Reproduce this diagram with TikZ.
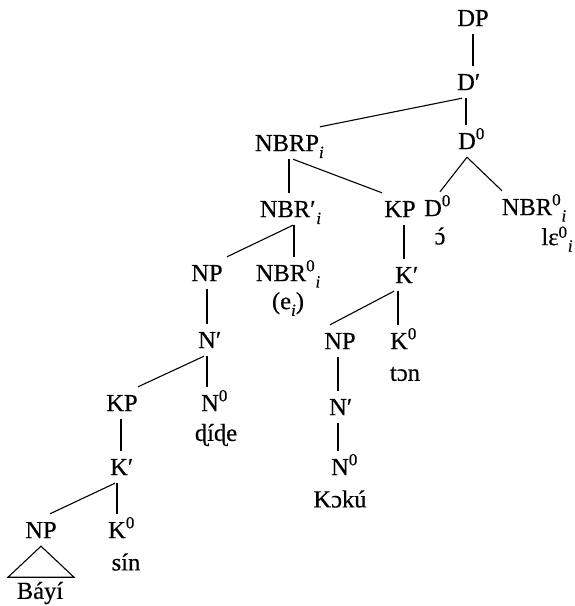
\documentclass[tikz,border=0pt]{standalone}
\usepackage{fontspec}
\setmainfont{Liberation Serif}[FakeBold=0.5]
\newcommand{\ssz}{\fontsize{17}{17}\selectfont}
\newcommand{\SupX}[1]{\rlap{\raisebox{0.40em}{\ssz #1}}}
\newcommand{\SubX}[1]{\rlap{\raisebox{-0.28em}{\ssz\itshape #1}}}
\newcommand{\SupSubX}[2]{\rlap{\raisebox{0.40em}{\ssz #1}}\rlap{\raisebox{-0.26em}{\kern0.38em\ssz\itshape #2}}}
\newcommand{\SupSubLow}[2]{\rlap{\raisebox{0.30em}{\ssz #1}}\rlap{\raisebox{-0.26em}{\kern0.38em\ssz\itshape #2}}}
\newcommand{\PrX}{\rlap{′}}
\newcommand{\PrSubX}[1]{\rlap{′}\rlap{\raisebox{-0.28em}{\kern0.25em\ssz\itshape #1}}}
\newcommand{\OOA}{\setbox0\hbox{ɔ}\rlap{ɔ}\hbox to\wd0{\hss\kern0.08em ´\hss}}
\begin{document}
\begin{tikzpicture}[x=1pt,y=-1pt,
  lab/.style={inner sep=0pt,text height=16.2pt,text depth=0pt,minimum height=32pt,font=\fontsize{24.5}{28}\selectfont},
  word/.style={inner sep=0pt,font=\fontsize{24.5}{28}\selectfont},
  edge/.style={line width=1.1pt}]
\useasboundingbox (0,0) rectangle (575,606);
% labels
\node[lab] (dp) at (473,18) {DP};
\node[lab] (dbar) at (466,82) {D\PrX};
\node[lab] (d0) at (467,141) {D\SupX{0}};
\node[lab] (nbrp) at (287,143) {NBRP\SubX{i}};
\node[lab] (nbrbar) at (285,209) {NBR\PrSubX{i}};
\node[lab] (kp) at (400,209) {KP};
\node[lab] (d0b) at (433,208) {D\SupX{0}};
\node[lab] (nbr0) at (527,207) {NBR\SupSubX{0}{i}};
\node[word] (oo) at (440,236) {\OOA};
\node[word] (le) at (550,239) {lɛ\SupSubLow{0}{i}};
\node[lab] (npm) at (207,273) {NP};
\node[lab] (nbr0m) at (281,273) {NBR\SupSubX{0}{i}};
\node[word] (ei) at (288,304) {(e\raisebox{-0.28em}{\ssz\itshape i})};
\node[lab] (kbarr) at (404,275) {K\PrX};
\node[lab] (nbarm) at (207,340) {N\PrX};
\node[lab] (npr) at (340,341) {NP};
\node[lab] (k0r) at (399,341) {K\SupX{0}};
\node[word] (ton) at (405,374) {tɔn};
\node[lab] (nbarr) at (338,407) {N\PrX};
\node[lab] (n0r) at (340,467) {N\SupX{0}};
\node[word] (koku) at (340,499) {Kɔkú};
\node[lab] (kpl) at (122,403) {KP};
\node[lab] (n0m) at (210,403) {N\SupX{0}};
\node[word] (dide) at (216,435) {ɖíɖe};
\node[lab] (kbarl) at (119,467) {K\PrX};
\node[lab] (npl) at (41,530) {NP};
\node[lab] (k0l) at (117,530) {K\SupX{0}};
\node[word] (sin) at (126,562) {sín};
\node[word] (bayi) at (40,593) {Báyí};
% connectors
\draw[edge] (dp.south) -- (dp.south |- dbar.north);
\draw[edge] (dbar.south) -- (dbar.south |- d0.north);
\draw[edge] ([xshift=-4]dbar.south) -- ([xshift=33]nbrp.north);
\draw[edge] (d0.south) -- ([xshift=7]d0b.north);
\draw[edge] (d0.south) -- ([xshift=-25]nbr0.north);
\draw[edge] ([xshift=2]nbrp.south) -- ([xshift=2]nbrp.south |- nbrbar.north);
\draw[edge] ([xshift=6]nbrp.south) -- ([xshift=-18]kp.north);
\draw[edge] ([xshift=8]nbrbar.south) -- ([xshift=20]npm.north);
\draw[edge] ([xshift=9]nbrbar.south) -- ([xshift=9]nbrbar.south |- nbr0m.north);
\draw[edge] ([xshift=4]kp.south) -- ([xshift=4]kp.south |- kbarr.north);
\draw[edge] ([xshift=-10]kbarr.south) -- ([xshift=-10]npr.north);
\draw[edge] ([xshift=-6]kbarr.south) -- ([xshift=-6]kbarr.south |- k0r.north);
\draw[edge] (npm.south) -- (npm.south |- nbarm.north);
\draw[edge] ([xshift=-3]nbarm.south) -- ([xshift=16]kpl.north);
\draw[edge] (nbarm.south) -- (nbarm.south |- n0m.north);
\draw[edge] ([xshift=-2]npr.south) -- ([xshift=-2]npr.south |- nbarr.north);
\draw[edge] (nbarr.south) -- (nbarr.south |- n0r.north);
\draw[edge] ([xshift=-1]kpl.south) -- ([xshift=-1]kpl.south |- kbarl.north);
\draw[edge] ([xshift=-4]kbarl.south) -- ([xshift=9]npl.north);
\draw[edge] ([xshift=-2]kbarl.south) -- ([xshift=-2]kbarl.south |- k0l.north);
\draw[edge] (npl.south) -- ++(-33,31) -- ++(66,0) -- cycle;
\end{tikzpicture}
\end{document}
